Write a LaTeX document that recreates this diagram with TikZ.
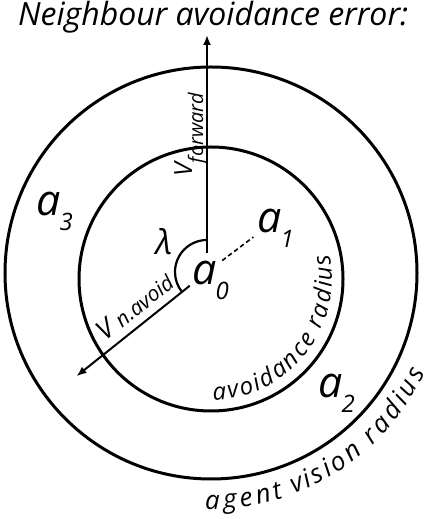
\documentclass[tikz,border=0pt]{standalone}
\usepackage{fontspec}
\setmainfont{Open Sans}
\usetikzlibrary{arrows.meta,decorations.text,calc}
\newcommand\fs[1]{\fontsize{#1}{#1}\selectfont}
\newcommand\alab[1]{{\fs{43}a}\hspace{-1pt}\raisebox{-15pt}{\fs{24}#1}}
\begin{document}
\begin{tikzpicture}[x=1pt,y=1pt,font=\itshape,
  ring/.style={line width=3pt},
  vec/.style={line width=2pt,-{Latex[length=10pt,width=8pt]}},
  lab/.style={inner sep=0pt,anchor=base west}]
\useasboundingbox (0,0) rectangle (430,519);
\coordinate (O) at (207,247);
\coordinate (cOut) at (211,246);
\coordinate (cIn) at (211,240);
\draw[ring] (cOut) circle[radius=206];
\draw[ring] (cIn) circle[radius=132];
\node[lab] (title) at (18,493) {\fs{32}Neighbour avoidance error:};
\coordinate (fwdstart) at ($(O)+(0,19)$);
\coordinate (fwdtip) at (207,484);
\draw[vec] (fwdstart) -- (fwdtip);
\coordinate (avstart) at ($(O)+(218.6:22)$);
\coordinate (avtip) at ($(O)+(218.6:167)$);
\draw[vec] (avstart) -- (avtip);
\coordinate (arcstart) at ($(O)+(90:32)$);
\draw[line width=2.2pt] (arcstart) arc[start angle=90,end angle=218.6,radius=32];
\coordinate (d0) at ($(O)+(37:19)$);
\coordinate (d1) at ($(O)+(37:58)$);
\draw[line width=1.6pt,dash pattern=on 4.5pt off 3pt] (d0) -- (d1);
\node[lab] (a0) at (192,234) {\alab{0}};
\node[lab] (a1) at (257,286) {\alab{1}};
\node[lab] (a2) at (318,121) {\alab{2}};
\node[lab] (a3) at (36,303) {\alab{3}};
\node (lam) at (164,277) {\fs{34}λ};
\node[lab,rotate=90] (vf) at (192,342) {\fs{25}V\raisebox{-11pt}{\fs{20}forward}};
\node[lab,rotate=38.6] (vn) at (105,177) {\fs{27}V \fs{21}n.avoid};
\path[font=\fs{24}\itshape,decorate,decoration={text effects along path,text={avoidance radius},
  text effects/.cd,text along path,fit text to path}]
  ($(cIn)+(-89:121)$) arc[start angle=-89,end angle=12,radius=121];
\path[font=\fs{26}\itshape,decorate,decoration={text effects along path,text={agent vision radius},
  text effects/.cd,text along path,fit text to path}]
  ($(cOut)+(-91.4:236)$) arc[start angle=-91.4,end angle=-25,radius=236];
\end{tikzpicture}
\end{document}
